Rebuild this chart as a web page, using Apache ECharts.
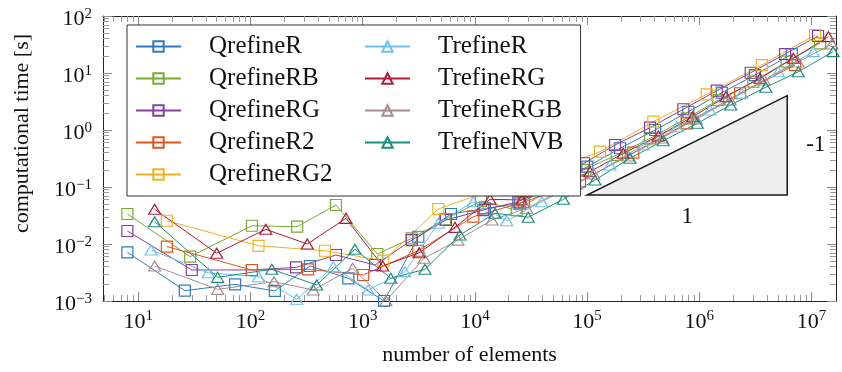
<!DOCTYPE html>
<html>
<head>
<meta charset="utf-8">
<script src="https://cdn.jsdelivr.net/npm/echarts@6.0.0/dist/echarts.min.js"></script>
<style>
  html, body { margin: 0; padding: 0; background: #fff; }
  #chart { width: 842px; height: 372px; }
</style>
</head>
<body>
<div id="chart"></div>
<script>
// number of elements / computational time [s]
const qrefineR_N = [8, 26, 73, 165, 339, 745, 1550, 3130, 6120, 12300, 25200, 100500, 196800, 403600, 798000, 1585000, 3130000, 6670000];
const qrefineR_T = [0.00714, 0.00152, 0.00196, 0.0015, 0.00411, 0.0025, 0.001, 0.0134, 0.0336, 0.042, 0.0518, 0.227, 0.478, 1.0, 2.09, 4.51, 9.2, 21.5];

const qrefineRB_N = [8, 29, 103, 261, 578, 1350, 2735, 5420, 11330, 23600, 91900, 183600, 364000, 773000, 1476000, 3030000, 6010000, 11900000];
const qrefineRB_T = [0.0336, 0.006, 0.0209, 0.0201, 0.0483, 0.00668, 0.0126, 0.0271, 0.0568, 0.0394, 0.199, 0.364, 0.714, 1.6, 3.36, 7.03, 15.8, 33.2];

const qrefineRG_N = [8, 30, 103, 255, 578, 1290, 2735, 5520, 11880, 24400, 93800, 177400, 364000, 720000, 1430000, 2870000, 5810000, 11430000];
const qrefineRG_T = [0.0169, 0.0035, 0.0035, 0.0039, 0.00641, 0.00428, 0.0117, 0.0264, 0.0394, 0.0552, 0.261, 0.546, 1.1, 2.31, 4.89, 10.1, 21.5, 44.6];

const qrefineR2_N = [18, 103, 327, 1010, 3130, 9680, 27400, 86500, 258000, 773000, 2310000, 7130000];
const qrefineR2_T = [0.009, 0.0035, 0.0036, 0.00286, 0.00762, 0.0301, 0.0546, 0.124, 0.4, 1.31, 4.41, 13.8];

const qrefineRG2_N = [18, 118, 461, 1530, 4720, 130300, 389000, 1164000, 3600000, 10740000];
const qrefineRG2_T = [0.0256, 0.0093, 0.00762, 0.00509, 0.0411, 0.416, 1.4, 4.23, 13.8, 46.4];

const trefineR_N = [13, 42, 118, 258, 547, 1120, 2380, 4720, 9680, 19190, 39400, 81300, 160000, 317000, 630000, 1245000, 2390000, 5060000, 10380000];
const trefineR_T = [0.00785, 0.00313, 0.00267, 0.00107, 0.004, 0.00156, 0.00327, 0.0231, 0.0552, 0.0256, 0.0552, 0.113, 0.243, 0.546, 1.14, 2.24, 4.41, 10.5, 23.7];

const trefineRG_N = [14, 50, 137, 321, 710, 1510, 3190, 6650, 13640, 26100, 106000, 210000, 431000, 873000, 1730000, 3480000, 6890000, 14130000];
const trefineRG_T = [0.0406, 0.00687, 0.0181, 0.01, 0.0282, 0.00411, 0.00703, 0.0196, 0.0608, 0.0592, 0.185, 0.39, 0.785, 1.71, 3.84, 8.07, 18.1, 43.4];

const trefineRGB_N = [14, 51, 162, 363, 815, 1610, 3520, 7060, 14200, 29000, 115000, 232000, 466000, 935000, 1880000, 3780000, 7580000, 15200000];
const trefineRGB_T = [0.00411, 0.0016, 0.00218, 0.00156, 0.00375, 0.00101, 0.00561, 0.0117, 0.0264, 0.0423, 0.169, 0.35, 0.724, 1.56, 3.36, 7.53, 15.6, 32.3];

const trefineNVB_N = [14, 51, 155, 389, 853, 1780, 3590, 7360, 15100, 29900, 61400, 117500, 241000, 477000, 960000, 1905000, 3910000, 7620000, 15560000];
const trefineNVB_T = [0.0246, 0.0026, 0.0036, 0.00191, 0.00807, 0.0025, 0.0036, 0.0144, 0.0346, 0.0294, 0.0608, 0.133, 0.319, 0.649, 1.31, 2.75, 5.61, 10.5, 23.7];

// slope triangle (data coords) and its labels
const slopeN = [100000, 6070000];
const slopeT = [0.0724, 4.0];
const slopeLabels = ['1', '-1'];

// axis ticks
const xMajor = [10, 100, 1000, 10000, 100000, 1000000, 10000000];
const yMajor = [0.001, 0.01, 0.1, 1, 10, 100];
const xMin = 4.85, xMax = 16520000;
const yMin = 0.001, yMax = 100;

const FONT = 'Liberation Serif';

function minorTicks(lo, hi) {
  const out = [];
  for (let k = Math.floor(Math.log10(lo)); k <= Math.ceil(Math.log10(hi)); k++) {
    for (let m = 2; m <= 9; m++) {
      const v = +(m * Math.pow(10, k)).toPrecision(6);
      if (v > lo && v < hi) out.push(v);
    }
  }
  return out;
}
const xMinor = minorTicks(xMin, xMax);
const yMinor = minorTicks(yMin, yMax);

function powLabel(v) {
  const e = Math.round(Math.log10(v));
  return '10{sup|' + (e < 0 ? '\u2212' + (-e) : e) + '}';
}

const labelStyle = {
  fontFamily: FONT, fontSize: 22, lineHeight: 26, color: '#111',
  formatter: powLabel,
  rich: { sup: { fontFamily: FONT, fontSize: 15, lineHeight: 15, verticalAlign: 'top', color: '#111' } }
};

function frameAxis(kind, pos, major, extra) {
  const isX = kind === 'x';
  return Object.assign({
    type: 'log', logBase: 10, position: pos,
    min: isX ? xMin : yMin, max: isX ? xMax : yMax,
    gridIndex: 0,
    axisLine: { show: true, lineStyle: { color: '#222', width: 1 } },
    axisTick: { show: true, inside: true, length: 9, customValues: major, lineStyle: { color: '#888', width: 1 } },
    axisLabel: { show: false },
    splitLine: { show: false },
    minorTick: { show: false }
  }, extra || {});
}
function minorAxis(kind, pos, minor) {
  const isX = kind === 'x';
  return {
    type: 'log', logBase: 10, position: pos,
    min: isX ? xMin : yMin, max: isX ? xMax : yMax,
    gridIndex: 0,
    axisLine: { show: false },
    axisTick: { show: true, inside: true, length: 6, customValues: minor, lineStyle: { color: '#999', width: 1 } },
    axisLabel: { show: false },
    splitLine: { show: false }
  };
}

const names = ['QrefineR', 'QrefineRB', 'QrefineRG', 'QrefineR2', 'QrefineRG2',
               'TrefineR', 'TrefineRG', 'TrefineRGB', 'TrefineNVB'];
const colors = ['#2f7bbf', '#77ac30', '#8a3d9c', '#e0561e', '#f0b21f',
                '#6cc0ea', '#b01c38', '#a98a8a', '#1b8f80'];
const Ns = [qrefineR_N, qrefineRB_N, qrefineRG_N, qrefineR2_N, qrefineRG2_N,
            trefineR_N, trefineRG_N, trefineRGB_N, trefineNVB_N];
const Ts = [qrefineR_T, qrefineRB_T, qrefineRG_T, qrefineR2_T, qrefineRG2_T,
            trefineR_T, trefineRG_T, trefineRGB_T, trefineNVB_T];

const series = names.map((name, i) => {
  const tri = name.charAt(0) === 'T';
  return {
    name: name,
    type: 'line',
    xAxisIndex: 0, yAxisIndex: 0,
    data: Ns[i].map((n, j) => [n, Ts[i][j]]),
    symbol: tri ? 'triangle' : 'rect',
    symbolSize: tri ? [12, 10] : 11,
    lineStyle: { color: colors[i], width: 1 },
    itemStyle: { color: 'transparent', borderColor: colors[i], borderWidth: 1.2 },
    emphasis: { disabled: true },
    z: 2
  };
});

series.push({
  type: 'custom',
  name: 'slope',
  coordinateSystem: 'cartesian2d',
  xAxisIndex: 0, yAxisIndex: 0,
  data: [[slopeN[0], slopeT[0], slopeN[1], slopeT[1]]],
  encode: { x: [0, 2], y: [1, 3] },
  silent: true,
  clip: false,
  z: 1,
  renderItem: function (params, api) {
    const a = api.coord([api.value(0), api.value(1)]);
    const b = api.coord([api.value(2), api.value(1)]);
    const c = api.coord([api.value(2), api.value(3)]);
    return {
      type: 'group',
      children: [
        { type: 'polygon', shape: { points: [a, b, c] },
          style: { fill: '#eeeeee', stroke: '#1a1a1a', lineWidth: 1.5 } },
        { type: 'text', x: (a[0] + b[0]) / 2, y: a[1] + 10,
          style: { text: slopeLabels[0], fontFamily: FONT, fontSize: 23, fill: '#111', align: 'center', verticalAlign: 'top' } },
        { type: 'text', x: b[0] + 19, y: (b[1] + c[1]) / 2,
          style: { text: slopeLabels[1], fontFamily: FONT, fontSize: 23, fill: '#111', align: 'left', verticalAlign: 'middle' } }
      ]
    };
  }
});

const legendText = { fontFamily: FONT, fontSize: 25, color: '#111', rich: { g: { width: 23 } } };

const option = {
  animation: false,
  backgroundColor: '#fff',
  textStyle: { fontFamily: FONT },
  grid: { left: 103, right: 6, top: 16, bottom: 71, containLabel: false, outerBoundsMode: 'none' },
  legend: [
    {
      data: names.slice(0, 5), orient: 'vertical', left: 127, top: 25, height: 160,
      padding: [9, 248, 9, 8], itemGap: 7, itemWidth: 45, itemHeight: 13,
      backgroundColor: '#fff', borderColor: '#333', borderWidth: 1, borderRadius: 0,
      selectedMode: false, formatter: n => '{g|}' + n, textStyle: legendText
    },
    {
      data: names.slice(5), orient: 'vertical', left: 364, top: 34, height: 160,
      padding: 0, itemGap: 7, itemWidth: 45, itemHeight: 13,
      selectedMode: false, formatter: n => '{g|}' + n, textStyle: legendText
    }
  ],
  xAxis: [
    frameAxis('x', 'bottom', xMajor, {
      axisLabel: Object.assign({ show: true, customValues: xMajor, margin: 8 }, labelStyle),
      name: 'number of elements', nameLocation: 'middle', nameGap: 43,
      nameTextStyle: { fontFamily: FONT, fontSize: 22, color: '#111' }
    }),
    minorAxis('x', 'bottom', xMinor),
    frameAxis('x', 'top', xMajor),
    minorAxis('x', 'top', xMinor)
  ],
  yAxis: [
    frameAxis('y', 'left', yMajor, {
      axisLabel: Object.assign({ show: true, customValues: yMajor, margin: 11, padding: [7, 0, 0, 0] }, labelStyle),
      name: 'computational time [s]', nameLocation: 'middle', nameGap: 70,
      nameTextStyle: { fontFamily: FONT, fontSize: 22, color: '#111', padding: [0, 0, 0, 50] }
    }),
    minorAxis('y', 'left', yMinor),
    frameAxis('y', 'right', yMajor),
    minorAxis('y', 'right', yMinor)
  ],
  series: series
};

const chart = echarts.init(document.getElementById('chart'), null, { renderer: 'canvas' });
chart.setOption(option);
</script>
</body>
</html>
